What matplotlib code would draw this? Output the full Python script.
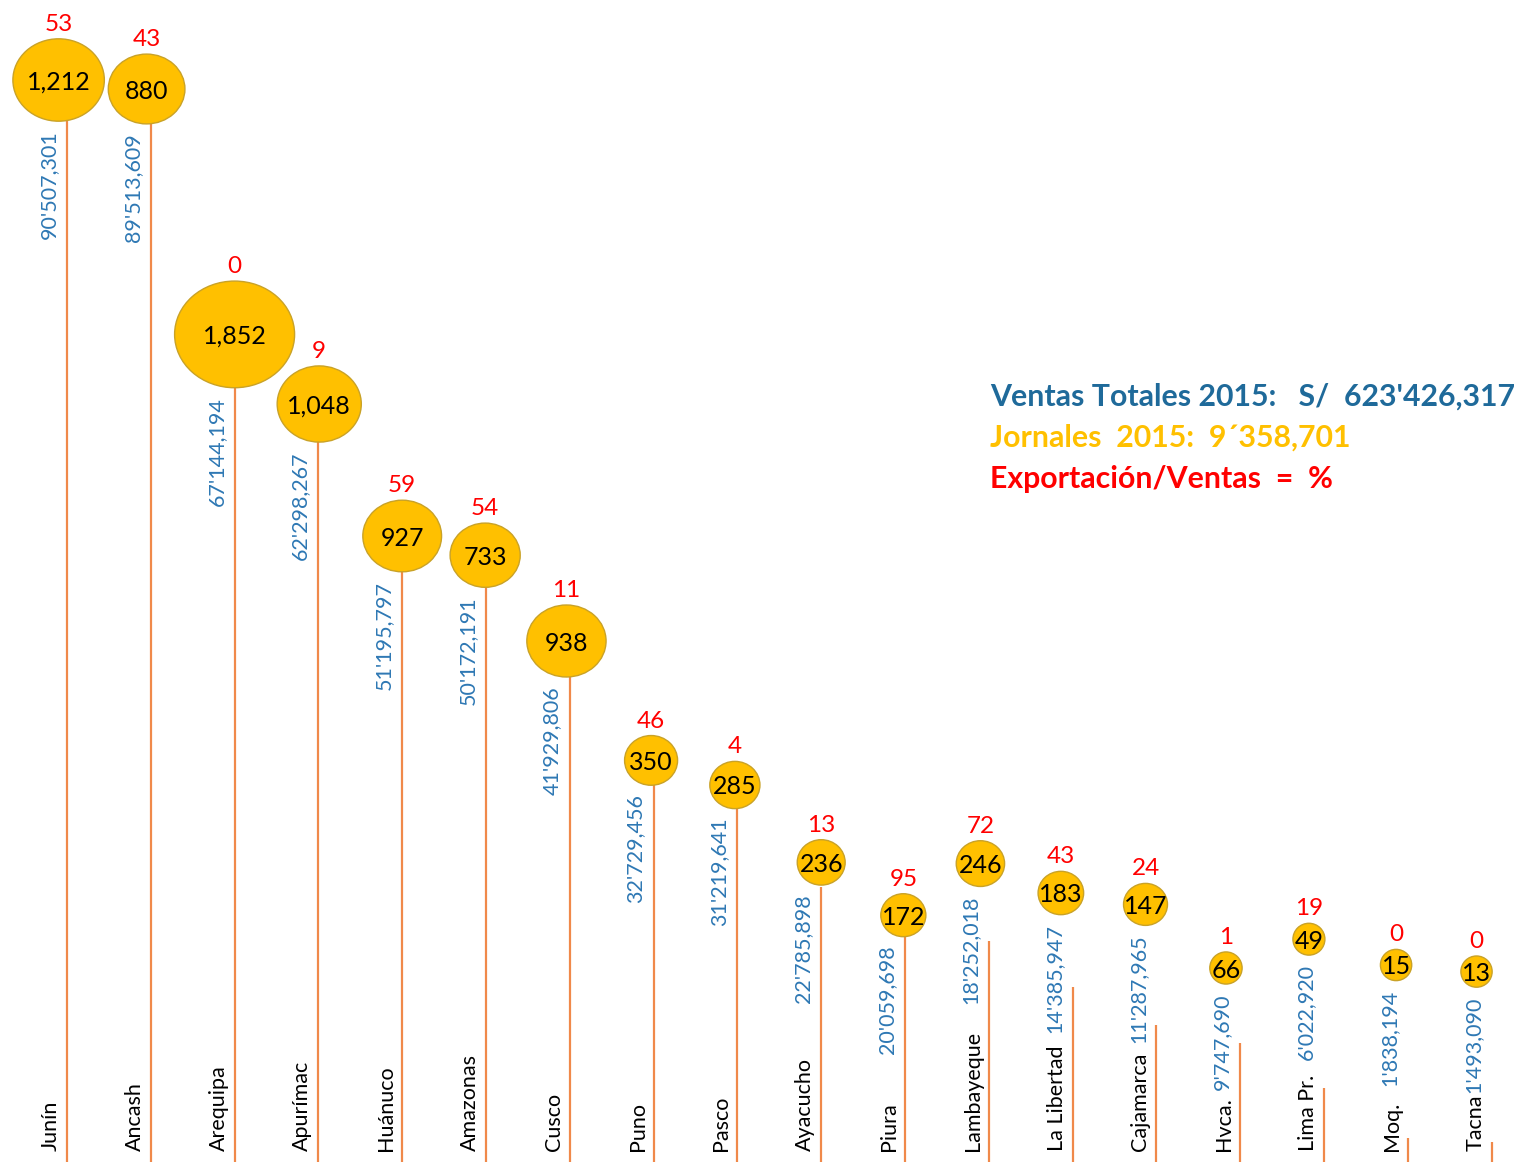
import matplotlib
matplotlib.use("Agg")
import matplotlib.pyplot as plt
from matplotlib.patches import Ellipse
import numpy as np

plt.rcParams['font.family'] = ['Lato', 'DejaVu Sans']

# ---------------- data ----------------
regions = ["Junín", "Ancash", "Arequipa", "Apurímac", "Huánuco", "Amazonas", "Cusco",
           "Puno", "Pasco", "Ayacucho", "Piura", "Lambayeque", "La Libertad",
           "Cajamarca", "Hvca.", "Lima Pr.", "Moq.", "Tacna"]
ventas = [90507301, 89513609, 67144194, 62298267, 51195797, 50172191, 41929806,
          32729456, 31219641, 22785898, 20059698, 18252018, 14385947, 11287965,
          9747690, 6022920, 1838194, 1493090]
jornales = [1212, 880, 1852, 1048, 927, 733, 938, 350, 285, 236, 172, 246, 183,
            147, 66, 49, 15, 13]
export_pct = [53, 43, 0, 9, 59, 54, 11, 46, 4, 13, 95, 72, 43, 24, 1, 19, 0, 0]
# height (millions of S/) at which each bubble sits in the original
bubble_level = [90.0, 89.25, 68.8, 63.0, 52.0, 50.4, 43.25, 33.3, 31.25, 24.8,
                20.4, 24.7, 22.25, 21.3, 16.0, 18.4, 16.25, 15.7]
# horizontal shift of each bubble from its stem (in category widths)
bubble_shift = [-0.10, -0.05, 0.0, 0.01, 0.0, -0.01, -0.04, -0.03, -0.03, 0.0,
                -0.02, -0.10, -0.14, -0.13, -0.17, -0.18, -0.14, -0.18]

legend_lines = ["Ventas Totales 2015:   S/  623'426,317",
                "Jornales  2015:  9´358,701",
                "Exportación/Ventas  =  %"]

# ---------------- styles ----------------
C_LINE = '#F0894A'
C_BUB = '#FFC000'
C_BUB_EDGE = '#C9A227'
C_BLUE = '#2E78B4'
C_LEG_BLUE = '#1F6A9A'
C_RED = '#FF0000'

W, H = 1517, 1162
fig = plt.figure(figsize=(W / 100, H / 100), dpi=100)
ax = fig.add_axes([0, 0, 1, 1])
ax.set_axis_off()

x0_px, step_px = 67.0, 83.8      # pixel of first stem, spacing
y_px_per_unit = 12.0             # pixels per million
base_px = 1160.0                 # baseline from top
ax.set_xlim(-x0_px / step_px, (W - x0_px) / step_px)
ax.set_ylim(-(H - base_px) / y_px_per_unit, base_px / y_px_per_unit)

n = len(regions)
xs = np.arange(n)
vm = np.array(ventas) / 1e6

# stems
ax.vlines(xs, -5, vm, color=C_LINE, lw=1.6, zorder=1)


def fmt_ventas(v):
    return f"{v // 1000000}'{(v // 1000) % 1000:03d},{v % 1000:03d}"


def bubble_px(v):
    if v >= 100:
        return 37.4 + 0.0446 * v
    return 31 + 0.02 * v


for i in range(n):
    wpx = bubble_px(jornales[i])
    hpx = 31 + 0.85 * (wpx - 31)
    w = wpx / step_px
    h = hpx / y_px_per_unit
    cx = xs[i] + bubble_shift[i]
    cy = bubble_level[i]
    ax.add_patch(Ellipse((cx, cy), w, h, facecolor=C_BUB, edgecolor=C_BUB_EDGE,
                         lw=1.0, zorder=3))
    ax.text(cx, cy, f"{jornales[i]:,}", ha='center', va='center_baseline',
            fontsize=18, color='black', zorder=4)
    # export percentage above the bubble
    ax.text(cx, cy + h / 2 + 4 / y_px_per_unit, f"{export_pct[i]}",
            ha='center', va='bottom', fontsize=17.5, color=C_RED, zorder=4)
    # ventas label along stem
    ax.text(xs[i] - 8 / step_px, cy - h / 2 - 9 / y_px_per_unit, fmt_ventas(ventas[i]),
            rotation=90, ha='right', va='top', fontsize=15.5, color=C_BLUE, zorder=4)
    # region name at bottom
    ax.text(xs[i] - 6 / step_px, 9 / y_px_per_unit, regions[i], rotation=90,
            ha='right', va='bottom', fontsize=15.5, color='black', zorder=4)

# legend text block
leg_x = -x0_px / step_px + 990 / step_px
for k, (txt, col) in enumerate(zip(legend_lines, [C_LEG_BLUE, C_BUB, C_RED])):
    ypx = 397 + 41 * k
    ax.text(leg_x, (base_px - ypx) / y_px_per_unit, txt, ha='left', va='center',
            fontsize=21.8, fontweight='bold', color=col)

fig.savefig("out.png", dpi=100)
